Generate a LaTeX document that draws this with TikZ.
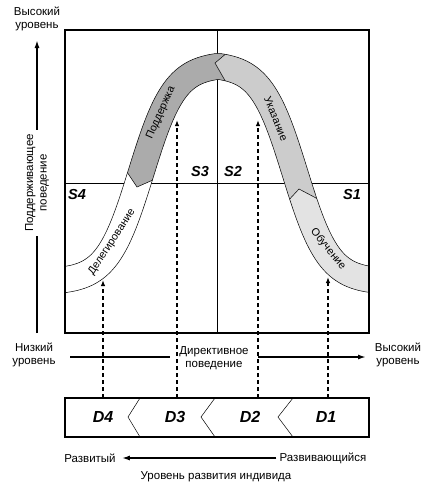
\documentclass[tikz,border=0pt]{standalone}
\usepackage{fontspec}
\setmainfont{Liberation Sans}
\usetikzlibrary{arrows.meta}
\definecolor{suppc}{gray}{0.67}
\definecolor{dirc}{gray}{0.80}
\definecolor{coachc}{gray}{0.89}
\tikzset{declare function={
  bl(\x)=1/(1+exp(-(abs(\x-218)-77)/17));
  bf(\x)=64+218*bl(\x);
  bd(\x)=218*bl(\x)*(1-bl(\x))/17*(\x-218)/(abs(\x-218)+0.5);
  bn(\x)=sqrt(1+bd(\x)*bd(\x));
}}
\begin{document}
\begin{tikzpicture}[x=1pt,y=-1pt,
  lbl/.style={font=\fontsize{11.5}{13.5}\selectfont, align=center, inner sep=1pt},
  slbl/.style={font=\fontsize{14.5}{16}\selectfont\bfseries\itshape, inner sep=0pt},
  dlbl/.style={font=\fontsize{16}{18}\selectfont\bfseries\itshape, inner sep=0pt},
  blbl/.style={font=\fontsize{10.8}{12}\selectfont, inner sep=0pt},
  thinline/.style={line width=0.8pt},
  bandline/.style={line width=0.5pt},
  frame/.style={line width=1.9pt},
  dasharrow/.style={line width=1.4pt, dash pattern=on 4pt off 3pt, -{Latex[length=6pt,width=4.5pt]}},
  axisarrow/.style={line width=1.5pt, -{Latex[length=8pt,width=5pt]}},
]
\useasboundingbox (0,0) rectangle (431,488);

% main box coordinates
\coordinate (btl) at (65,30);
\coordinate (bbr) at (369,333);
\coordinate (hml) at (65,183);
\coordinate (hmr) at (369,183);
\coordinate (vmt) at (217,30);
\coordinate (vmb) at (217,333);
\draw[thinline] (hml) -- (hmr);
\draw[thinline] (vmt) -- (vmb);

% band
\begin{scope}
\clip (btl) rectangle (bbr);
\fill[white]
  plot[domain=50:386, samples=180, variable=\t] ({\t+13*bd(\t)/bn(\t)},{bf(\t)-13/bn(\t)})
  -- plot[domain=386:50, samples=180, variable=\t] ({\t-13*bd(\t)/bn(\t)},{bf(\t)+13/bn(\t)})
  -- cycle;
\begin{scope}
\clip
  plot[domain=50:386, samples=180, variable=\t] ({\t+13*bd(\t)/bn(\t)},{bf(\t)-13/bn(\t)})
  -- plot[domain=386:50, samples=180, variable=\t] ({\t-13*bd(\t)/bn(\t)},{bf(\t)+13/bn(\t)})
  -- cycle;
\fill[suppc] (117,157) -- (137,187) -- (169,173) -- (200,120) -- (227,84) -- (215,63) -- (241,41) -- (100,35) -- (60,160) -- cycle;
\fill[coachc] (333,207) -- (299,189) -- (273,217) -- (280,330) -- (400,330) -- (400,150) -- cycle;
\fill[dirc] (227,84) -- (215,63) -- (241,41) -- (400,35) -- (400,150) -- (333,207) -- (299,189) -- (273,217) -- (250,150) -- cycle;
\draw[bandline] (117,157) -- (137,187) -- (169,173);
\draw[bandline] (241,41) -- (215,63) -- (227,84);
\draw[bandline] (273,217) -- (299,189) -- (333,207);
\end{scope}
\draw[bandline]
  plot[domain=50:386, samples=180, variable=\t] ({\t+13*bd(\t)/bn(\t)},{bf(\t)-13/bn(\t)});
\draw[bandline]
  plot[domain=386:50, samples=180, variable=\t] ({\t-13*bd(\t)/bn(\t)},{bf(\t)+13/bn(\t)});
\end{scope}

\node[blbl, rotate=66] (tsupp) at (161,113) {Поддержка};
\node[blbl, rotate=-68] (tdir) at (276,119) {Указание};
\node[blbl, rotate=57] (tdel) at (112,242) {Делегирование};
\node[blbl, rotate=-51] (tcoach) at (328,249) {Обучение};

% frame
\draw[frame] (btl) rectangle (bbr);

% quadrant labels
\node[slbl] (s4) at (77,195) {S4};
\node[slbl] (s3) at (200,172) {S3};
\node[slbl] (s2) at (233,172) {S2};
\node[slbl] (s1) at (352,195) {S1};

% left axis
\node[lbl] (hiL) at (37,19) {Высокий\\уровень};
\coordinate (la0) at (37,333);
\coordinate (la1) at (37,40);
\draw[axisarrow, line width=1.8pt] (la0) -- (la1);
\node[lbl, rotate=90, fill=white, inner sep=4pt] (lax) at (37,183) {Поддерживающее\\поведение};

% bottom axis
\node[lbl] (lowL) at (34,355) {Низкий\\уровень};
\node[lbl] (hiR) at (398,355) {Высокий\\уровень};
\coordinate (ba0) at (70,357);
\coordinate (ba1) at (366,357);
\draw[axisarrow] (ba0) -- (ba1);
\node[lbl, fill=white, minimum width=88pt, minimum height=30pt] (dirl) at (214,358) {Директивное\\поведение};

% development box
\coordinate (dtl) at (65,398);
\coordinate (dbr) at (369,437);
\draw[frame] (dtl) rectangle (dbr);
\draw[bandline] (140,398) -- (128,417) -- (140,437);
\draw[bandline] (215,398) -- (201,417) -- (215,437);
\draw[bandline] (293,398) -- (278,417) -- (293,437);
\node[dlbl] (d4) at (103,417) {D4};
\node[dlbl] (d3) at (175,417) {D3};
\node[dlbl] (d2) at (250,417) {D2};
\node[dlbl] (d1) at (326,417) {D1};

% dashed arrows
\coordinate (a4s) at (103,398); \coordinate (a4e) at (103,280);
\coordinate (a3s) at (177,398); \coordinate (a3e) at (177,120);
\coordinate (a2s) at (258,398); \coordinate (a2e) at (258,120);
\coordinate (a1s) at (328,398); \coordinate (a1e) at (328,277);
\draw[dasharrow] (a4s) -- (a4e);
\draw[dasharrow] (a3s) -- (a3e);
\draw[dasharrow] (a2s) -- (a2e);
\draw[dasharrow] (a1s) -- (a1e);

% development axis
\node[lbl] (devd) at (90,458) {Развитый};
\node[lbl] (devg) at (323,458) {Развивающийся};
\draw[axisarrow, shorten >=5pt, shorten <=2pt] (devg.west) -- (devd.east);
\node[lbl] (lvl) at (216,477) {Уровень развития индивида};
\end{tikzpicture}
\end{document}
